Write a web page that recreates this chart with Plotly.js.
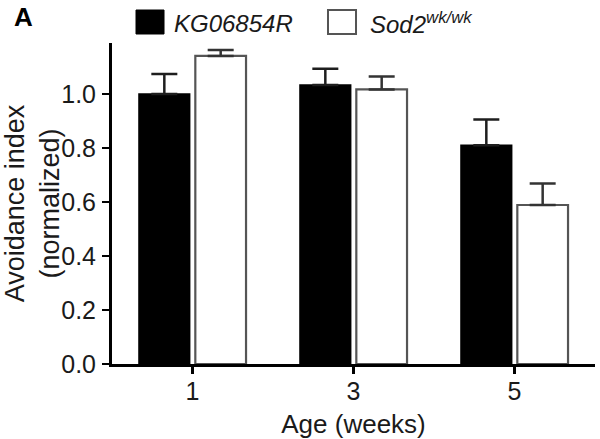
<!DOCTYPE html>
<html>
<head>
<meta charset="utf-8">
<script src="https://cdn.plot.ly/plotly-3.0.1.min.js"></script>
<style>
  html, body { margin: 0; padding: 0; background: #fff; }
  #chart { width: 600px; height: 439px; }
</style>
</head>
<body>
<div id="chart"></div>
<script>
// ---- data ----
var ages = ["1", "3", "5"];
var kgMeans = [1.00, 1.033, 0.81];
var kgSem = [0.074, 0.061, 0.096];
var sodMeans = [1.141, 1.017, 0.589];
var sodSem = [0.022, 0.048, 0.080];
var seriesNames = ["KG06854R", "Sod2<sup>wk/wk</sup>"];
var yTicks = [0, 0.2, 0.4, 0.6, 0.8, 1.0];

var FONT = "Arial, 'Liberation Sans', Helvetica, sans-serif";
var TXT = "#1a1a1a";

var traces = [
  {
    type: "bar", x: ages, y: kgMeans, name: seriesNames[0],
    marker: { color: "#000000", line: { color: "#000000", width: 1.5 } },
    error_y: { type: "data", array: kgSem, arrayminus: [0, 0, 0], symmetric: false,
               color: "#1e1e1e", thickness: 2.5, width: 13 },
    showlegend: false, hoverinfo: "skip"
  },
  {
    type: "bar", x: ages, y: sodMeans, name: seriesNames[1],
    marker: { color: "#ffffff", line: { color: "#555555", width: 2.2 } },
    error_y: { type: "data", array: sodSem, arrayminus: [0, 0, 0], symmetric: false,
               color: "#333333", thickness: 2.5, width: 13 },
    showlegend: false, hoverinfo: "skip"
  }
];

var layout = {
  width: 600, height: 439,
  margin: { l: 112, r: 5, t: 43, b: 75, pad: 0 },
  paper_bgcolor: "#ffffff", plot_bgcolor: "#ffffff",
  font: { family: FONT, color: TXT, size: 24 },
  barmode: "group", bargap: 0.30, bargroupgap: 0.10,
  showlegend: false,
  xaxis: {
    type: "category", range: [-0.5, 2.5],
    showline: true, linecolor: "#000", linewidth: 3,
    ticks: "outside", ticklen: 7, tickwidth: 2.5, tickcolor: "#000",
    showgrid: false, zeroline: false, ticklabelstandoff: -4,
    tickfont: { size: 25, family: FONT, color: TXT },
    title: { text: "Age (weeks)", font: { size: 26, family: FONT, color: TXT }, standoff: 12 }
  },
  yaxis: {
    range: [0, 1.189], tickvals: yTicks, tickformat: ".1f",
    showline: true, linecolor: "#000", linewidth: 3,
    ticks: "outside", ticklen: 7, tickwidth: 2.5, tickcolor: "#000",
    showgrid: false, zeroline: false, ticklabelstandoff: 1,
    tickfont: { size: 25, family: FONT, color: TXT },
    title: { text: "Avoidance index<br>(normalized)", font: { size: 27, family: FONT, color: TXT }, standoff: 2 }
  },
  shapes: [
    { type: "rect", xref: "paper", yref: "paper", x0: 0.0497, x1: 0.1077, y0: 1.028, y1: 1.1028,
      fillcolor: "#000", line: { color: "#000", width: 1 } },
    { type: "rect", xref: "paper", yref: "paper", x0: 0.4472, x1: 0.5052, y0: 1.028, y1: 1.1028,
      fillcolor: "#fff", line: { color: "#555", width: 2 } }
  ],
  annotations: [
    { text: "<i>" + seriesNames[0] + "</i>", xref: "paper", yref: "paper", x: 0.1242, y: 1.062,
      xanchor: "left", yanchor: "middle", showarrow: false, font: { size: 24, family: FONT, color: TXT } },
    { text: "<i>" + seriesNames[1] + "</i>", xref: "paper", yref: "paper", x: 0.530, y: 1.062,
      xanchor: "left", yanchor: "middle", showarrow: false, font: { size: 24, family: FONT, color: TXT } },
    { text: "<b>A</b>", xref: "paper", yref: "paper", x: -0.184, y: 1.081,
      xanchor: "center", yanchor: "middle", showarrow: false, font: { size: 26, family: FONT, color: "#000" } }
  ]
};

Plotly.newPlot("chart", traces, layout, { staticPlot: true, displayModeBar: false });
</script>
</body>
</html>
